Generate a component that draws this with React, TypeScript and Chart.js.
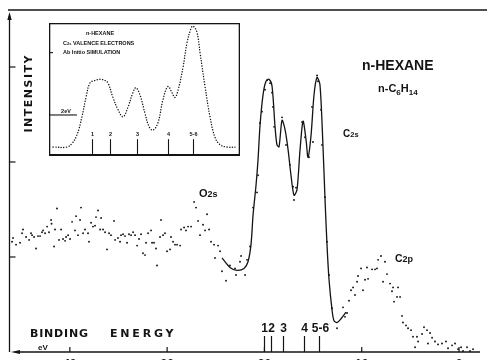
import React, { useEffect, useRef } from "react";
import { Chart, registerables } from "chart.js";

Chart.register(...registerables);

// ---------- Main spectrum: binding energy (eV) vs intensity (arb.) ----------
const expEnergy = [
  45.94, 45.84, 45.53, 45.12, 44.91, 44.81, 44.5, 44.19, 43.99, 43.88, 43.68, 43.47, 43.27, 43.06,
  42.86, 42.75, 42.55, 42.34, 42.14, 41.93, 41.88, 41.62, 41.52, 41.32, 41.11, 40.9, 40.7, 40.49,
  40.39, 40.18, 39.98, 39.77, 39.47, 39.36, 39.16, 38.95, 38.85, 38.64, 38.44, 38.13, 38.03, 37.82,
  37.62, 37.41, 37.31, 37.1, 36.89, 36.79, 36.59, 36.38, 36.18, 35.97, 35.77, 35.46, 35.35, 35.05,
  34.84, 34.74, 34.53, 34.33, 34.12, 33.92, 33.71, 33.5, 33.3, 33.09, 32.89, 32.68, 32.48, 32.27,
  32.17, 31.96, 31.65, 31.55, 31.35, 31.14, 31.04, 30.73, 30.63, 30.42, 30.22, 30.01, 29.7, 29.6,
  29.39, 29.19, 28.98, 28.67, 28.57, 28.26, 28.06, 27.85, 27.54, 27.23, 27.03, 26.82, 26.62, 26.31,
  26.1, 25.9, 25.69, 25.49, 25.18, 25.08, 24.77, 24.56, 24.36, 23.95, 23.54, 23.02, 22.92, 22.51,
  22.4, 21.99, 21.79, 21.48, 21.17, 20.76, 20.66, 20.45, 20.25, 19.94, 19.73, 19.42, 19.22, 19.12,
  19.01, 18.19, 17.78, 17.37, 17.06, 16.96, 16.75, 16.14, 15.83, 15.42, 15.11, 15.01, 14.59, 14.49,
  14.18, 14.08, 13.77, 13.57, 13.36, 13.05, 12.54, 11.92, 11.72, 11.51, 11.31, 11.1, 10.89, 10.69,
  10.48, 10.38, 10.07, 9.87, 9.66, 9.46, 9.35, 8.94, 8.63, 8.43, 8.32, 8.02, 7.81, 7.61, 7.4, 7.09,
  6.89, 6.78, 6.68, 6.37, 6.27, 6.06, 5.86, 5.76, 5.45, 5.24, 4.93, 4.73, 4.52, 4.32, 4.21, 3.8,
  3.6, 3.29, 3.19, 2.98, 2.77, 2.47, 2.16, 1.75, 1.34, 1.13, 0.72, 0.41, 0.1, -0.21, -0.41, -0.82,
  -1.13, -1.44,
];
const expIntensity = [
  1.16, 1.2, 1.13, 1.15, 1.25, 1.29, 1.21, 1.18, 1.25, 1.23, 1.21, 1.09, 1.22, 1.22,
  1.26, 1.28, 1.25, 1.32, 1.26, 1.39, 1.35, 1.11, 1.29, 1.51, 1.18, 1.29, 1.19, 1.17,
  1.21, 1.23, 1.19, 1.37, 1.28, 1.43, 1.23, 1.39, 1.52, 1.25, 1.29, 1.25, 1.16, 1.36,
  1.32, 1.33, 1.42, 1.49, 1.29, 1.41, 1.29, 1.26, 1.08, 1.25, 1.23, 1.38, 1.18, 1.2,
  1.16, 1.23, 1.24, 1.22, 1.15, 1.24, 1.23, 1.26, 1.23, 1.12, 1.19, 1.24, 1.04, 1.02,
  1.15, 1.25, 1.28, 1.15, 1.15, 1.09, 0.91, 1.21, 1.39, 1.23, 1.25, 1.06, 1.08, 1.21,
  1.16, 1.13, 1.13, 1.12, 1.29, 1.31, 1.28, 1.32, 1.32, 1.58, 1.52, 1.38, 1.23, 1.34,
  1.28, 1.45, 1.29, 1.16, 1.13, 0.99, 1.12, 1.06, 0.85, 0.75, 0.91, 0.88, 0.81, 0.95,
  1.01, 0.81, 0.97, 1.11, 1.52, 1.68, 1.86, 2.41, 2.53, 2.76, 2.86, 2.83, 2.73, 2.58,
  2.37, 2.47, 2.18, 1.97, 1.74, 1.6, 1.73, 2.42, 2.26, 2.05, 2.58, 2.21, 2.91, 2.85,
  2.55, 2.18, 1.63, 1.16, 0.81, 0.46, 0.25, 0.47, 0.37, 0.41, 0.54, 0.65, 0.68, 0.6,
  0.74, 0.8, 0.88, 0.65, 0.76, 0.89, 0.77, 0.87, 0.87, 0.88, 0.97, 1.01, 0.74, 0.95, 0.82, 0.72,
  0.64, 0.68, 0.53, 0.58, 0.68, 0.58, 0.38, 0.31, 0.28, 0.25, 0.23, 0.16, 0.05, 0.16, 0.11, 0.19,
  0.26, 0.23, 0.09, 0.2, 0.15, 0.11, 0.08, 0.09, 0.11, 0.04, 0.07, 0.09, 0.03, 0.05, 0.01, 0.05,
  0.01, 0.03,
];

// Fitted (solid) curve through the C2s region
const fitEnergy = [
  24.36, 23.54, 22.82, 22.1, 21.69, 21.38, 21.17, 20.86, 20.66, 20.45, 20.14, 19.84, 19.53, 19.22,
  18.91, 18.71, 18.5, 18.19, 17.88, 17.57, 17.27, 16.96, 16.65, 16.34, 16.03, 15.72, 15.52, 15.21,
  14.9, 14.59, 14.29, 13.98, 13.77, 13.57, 13.36, 13.05, 12.85, 12.54, 12.13, 11.61,
];
const fitIntensity = [
  0.99, 0.89, 0.86, 0.88, 0.95, 1.13, 1.44, 1.76, 2.02, 2.39, 2.71, 2.85, 2.87, 2.8,
  2.37, 2.18, 2.16, 2.44, 2.34, 2.13, 1.86, 1.65, 1.71, 2.13, 2.43, 2.23, 2.05, 2.28,
  2.71, 2.89, 2.81, 2.16, 1.6, 1.13, 0.76, 0.44, 0.33, 0.31, 0.35, 0.42,
];

const xTickValues = [40, 30, 20, 10, 0];
const yTickValues = [1, 2, 3];
const stickEnergy = [20.04, 19.32, 18.09, 15.93, 14.39];
const stickLabels = ["1", "2", "3", "4", "5-6"];

// ---------- Inset: ab initio simulation (relative energy, normalised intensity) ----------
const simEnergy = [
  13.7, 12.67, 12.3, 11.93, 11.56, 11.26, 10.96, 10.59, 10.22, 9.85, 9.63, 9.26, 8.89, 8.52,
  8.15, 7.78, 7.56, 7.26, 6.89, 6.59, 6.3, 5.93, 5.56, 5.19, 4.89, 4.67, 4.44, 4.07, 3.78, 3.48,
  3.33, 3.04, 2.81, 2.44, 2.07, 1.7, 1.33, 0.81, 0.07,
];
const simIntensity = [
  0, 0, 0.03, 0.1, 0.25, 0.41, 0.53, 0.55, 0.56, 0.55, 0.53, 0.41, 0.31, 0.25,
  0.33, 0.45, 0.49, 0.43, 0.28, 0.17, 0.14, 0.2, 0.39, 0.5, 0.45, 0.41, 0.47, 0.66, 0.86, 0.98,
  1.0, 0.95, 0.78, 0.5, 0.25, 0.08, 0.02, 0, 0,
];
const simStickEnergy = [10.81, 9.48, 7.48, 5.19, 3.33];
const simStickLabels = ["1", "2", "3", "4", "5-6"];
const simScaleBar = [13.93, 11.93]; // 2 eV

const INK = "#141414";

function seg(ctx: CanvasRenderingContext2D, x1: number, y1: number, x2: number, y2: number) {
  ctx.beginPath();
  ctx.moveTo(x1, y1);
  ctx.lineTo(x2, y2);
  ctx.stroke();
}

function txt(
  ctx: CanvasRenderingContext2D,
  s: string,
  x: number,
  y: number,
  font: string,
  align: CanvasTextAlign = "left",
  baseline: CanvasTextBaseline = "alphabetic",
  spacing = 0
) {
  ctx.font = font;
  ctx.textAlign = align;
  ctx.textBaseline = baseline;
  (ctx as any).letterSpacing = spacing + "px";
  ctx.fillText(s, x, y);
  (ctx as any).letterSpacing = "0px";
  ctx.font = font;
  return ctx.measureText(s).width + spacing * s.length;
}

// sequence of [text, font, dy] pieces drawn left to right
function pieces(ctx: CanvasRenderingContext2D, x: number, y: number, parts: [string, string, number][]) {
  let cx = x;
  for (const [s, f, dy] of parts) {
    cx += txt(ctx, s, cx, y + dy, f);
  }
}

const mainDecor = {
  id: "mainDecor",
  afterDraw(chart: any) {
    const { ctx, chartArea: a } = chart;
    const xs = chart.scales.x;
    const ys = chart.scales.y;
    ctx.save();
    ctx.strokeStyle = INK;
    ctx.fillStyle = INK;
    ctx.lineWidth = 1.3;

    // top frame line
    seg(ctx, a.left - 2, a.top, chart.width, a.top);
    // vertical axis with arrow
    const ax = a.left - 0.5;
    seg(ctx, ax, a.top + 6, ax, a.bottom);
    ctx.beginPath();
    ctx.moveTo(ax, a.top + 2);
    ctx.lineTo(ax - 2.2, a.top + 10);
    ctx.lineTo(ax + 2.2, a.top + 10);
    ctx.closePath();
    ctx.fill();
    // horizontal axis with arrow to the left (energy increases leftwards)
    seg(ctx, a.left + 6, a.bottom, a.right + 2, a.bottom);
    ctx.beginPath();
    ctx.moveTo(a.left + 1, a.bottom);
    ctx.lineTo(a.left + 10, a.bottom - 2);
    ctx.lineTo(a.left + 10, a.bottom + 2);
    ctx.closePath();
    ctx.fill();

    // inward ticks
    ctx.lineWidth = 1.2;
    for (const v of xTickValues) {
      const px = xs.getPixelForValue(v);
      seg(ctx, px, a.bottom, px, a.bottom - 5);
    }
    for (const v of yTickValues) {
      const py = ys.getPixelForValue(v);
      seg(ctx, ax, py, ax + 6, py);
    }

    // calculated level sticks on the energy axis
    for (let i = 0; i < stickEnergy.length; i++) {
      const px = Math.round(xs.getPixelForValue(stickEnergy[i])) + 0.5;
      seg(ctx, px, a.bottom - 16, px, a.bottom);
      txt(ctx, stickLabels[i], px + (i === 4 ? 1 : 0), a.bottom - 20, "bold 12px 'Liberation Sans'", "center");
    }

    // axis titles
    ctx.save();
    ctx.translate(29, 94);
    ctx.rotate(-Math.PI / 2);
    txt(ctx, "INTENSITY", 0.75, 0, "bold 11px 'DejaVu Sans'", "center", "middle", 1.5);
    ctx.restore();
    txt(ctx, "BINDING", 30, 337, "bold 11px 'DejaVu Sans'", "left", "alphabetic", 0.8);
    txt(ctx, "ENERGY", 110, 337, "bold 11px 'DejaVu Sans'", "left", "alphabetic", 2.8);
    txt(ctx, "eV", 38, 350, "bold 8px 'Liberation Sans'");

    // title and formula
    txt(ctx, "n-HEXANE", 362, 70, "bold 14px 'Liberation Sans'");
    const big = "bold 11px 'Liberation Sans'";
    const sub = "bold 8px 'Liberation Sans'";
    pieces(ctx, 378, 91.5, [
      ["n-C", big, 0],
      ["6", sub, 3],
      ["H", big, 0],
      ["14", sub, 3],
    ]);

    // peak labels
    pieces(ctx, 343, 137, [
      ["C", "bold 10px 'Liberation Sans'", 0],
      ["2s", "bold 7.5px 'Liberation Sans'", 0],
    ]);
    pieces(ctx, 199, 197, [
      ["O", "bold 11px 'Liberation Sans'", 0],
      ["2s", "bold 9px 'Liberation Sans'", 0],
    ]);
    pieces(ctx, 395, 262, [
      ["C", "bold 10.5px 'Liberation Sans'", 0],
      ["2p", "bold 9px 'Liberation Sans'", 0],
    ]);
    ctx.restore();
  },
};

const insetDecor = {
  id: "insetDecor",
  afterDraw(chart: any) {
    const { ctx, width, height } = chart;
    const xs = chart.scales.x;
    const ys = chart.scales.y;
    ctx.save();
    ctx.strokeStyle = INK;
    ctx.fillStyle = INK;
    // frame
    ctx.lineWidth = 1.3;
    ctx.strokeRect(0.65, 0.65, width - 1.3, height - 1.3);
    ctx.lineWidth = 2;
    seg(ctx, 0, height - 1, width, height - 1);

    // sticks
    ctx.lineWidth = 1.1;
    for (let i = 0; i < simStickEnergy.length; i++) {
      const px = Math.round(xs.getPixelForValue(simStickEnergy[i])) + 0.5;
      seg(ctx, px, ys.getPixelForValue(0.065), px, height);
      txt(ctx, simStickLabels[i], px, ys.getPixelForValue(0.1), "bold 5.5px 'Liberation Sans'", "center", "middle");
    }

    // 2 eV scale bar and left tick
    const yb = ys.getPixelForValue(0.265);
    seg(ctx, xs.getPixelForValue(simScaleBar[0]), yb, xs.getPixelForValue(simScaleBar[1]), yb);
    txt(ctx, "2eV", 17, yb - 2, "bold 5.5px 'Liberation Sans'", "center", "alphabetic");
    const yt = ys.getPixelForValue(0.78);
    seg(ctx, 0, yt, 4, yt);

    // captions
    const f = "bold 5.5px 'Liberation Sans'";
    txt(ctx, "n-HEXANE", 51, 10, f, "center", "middle");
    pieces(ctx, 14, 21.5, [
      ["C", f, 0],
      ["2s", "bold 4px 'Liberation Sans'", 0.5],
      [" VALENCE ELECTRONS", f, 0],
    ]);
    txt(ctx, "Ab Initio SIMULATION", 14, 31, f);
    ctx.restore();
  },
};

export default function App() {
  const mainRef = useRef<HTMLCanvasElement>(null);
  const insetRef = useRef<HTMLCanvasElement>(null);

  useEffect(() => {
    const main = new Chart(mainRef.current as HTMLCanvasElement, {
      type: "scatter",
      data: {
        datasets: [
          {
            type: "line",
            data: fitEnergy.map((e, i) => ({ x: e, y: fitIntensity[i] })),
            borderColor: INK,
            borderWidth: 1.3,
            pointRadius: 0,
            tension: 0.28,
            fill: false,
          } as any,
          {
            type: "scatter",
            data: expEnergy.map((e, i) => ({ x: e, y: expIntensity[i] })),
            backgroundColor: INK,
            borderWidth: 0,
            pointRadius: 0.95,
          },
        ],
      },
      options: {
        animation: false,
        responsive: false,
        devicePixelRatio: 1,
        layout: { padding: { left: 10, right: 9, top: 10, bottom: 3 } },
        plugins: { legend: { display: false }, tooltip: { enabled: false } },
        events: [],
        scales: {
          x: {
            type: "linear",
            position: "bottom",
            reverse: true,
            min: -1.95,
            max: 46.15,
            grid: { display: false, drawTicks: false },
            border: { display: false },
            ticks: {
              color: INK,
              padding: 5,
              maxRotation: 0,
              autoSkip: false,
              font: { family: "'Liberation Sans'", size: 12, weight: "bold" },
            },
            afterBuildTicks: (s: any) => {
              s.ticks = xTickValues.map((v) => ({ value: v }));
            },
            afterFit: (s: any) => {
              s.height = 20;
            },
          },
          y: { type: "linear", display: false, min: 0, max: 3.6 },
        },
      },
      plugins: [mainDecor],
    });

    const inset = new Chart(insetRef.current as HTMLCanvasElement, {
      type: "line",
      data: {
        datasets: [
          {
            data: simEnergy.map((e, i) => ({ x: e, y: simIntensity[i] })),
            borderColor: INK,
            borderWidth: 1.4,
            borderDash: [0.1, 2.6],
            borderCapStyle: "round",
            pointRadius: 0,
            tension: 0.4,
            fill: false,
          } as any,
        ],
      },
      options: {
        animation: false,
        responsive: false,
        devicePixelRatio: 1,
        layout: { padding: 0 },
        events: [],
        plugins: { legend: { display: false }, tooltip: { enabled: false } },
        scales: {
          x: { type: "linear", display: false, reverse: true, min: -0.15, max: 14.0 },
          y: { type: "linear", display: false, min: -0.074, max: 1.025 },
        },
      },
      plugins: [insetDecor],
    });

    return () => {
      main.destroy();
      inset.destroy();
    };
  }, []);

  return (
    <div
      style={{
        position: "absolute",
        left: 0,
        top: 0,
        width: 487,
        height: 360,
        overflow: "hidden",
        background: "#fff",
      }}
    >
      <canvas
        ref={mainRef}
        width={487}
        height={375}
        style={{ position: "absolute", left: 0, top: 0, width: 487, height: 375 }}
      />
      <canvas
        ref={insetRef}
        width={191}
        height={133}
        style={{ position: "absolute", left: 49, top: 23, width: 191, height: 133, background: "#fff" }}
      />
    </div>
  );
}
